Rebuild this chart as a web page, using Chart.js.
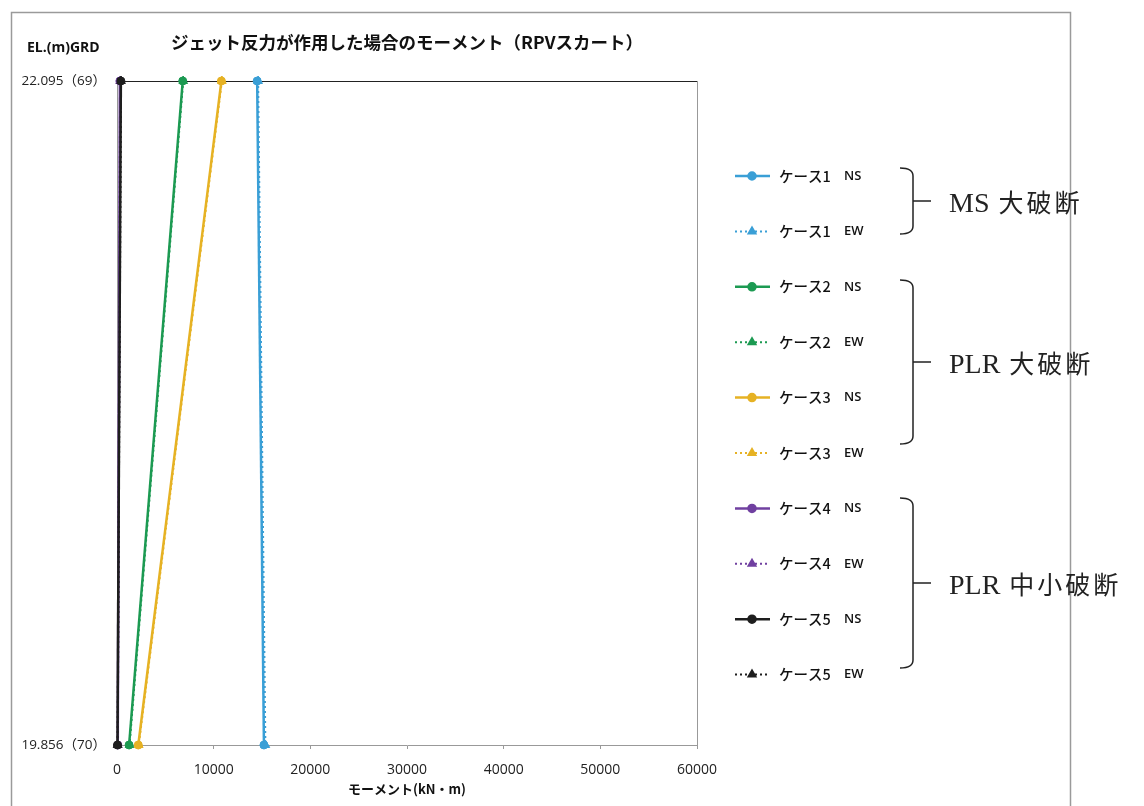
<!DOCTYPE html>
<html lang="ja">
<head>
    <meta charset="UTF-8">
    <title>ジェット反力が作用した場合のモーメント</title>
    <script src="https://cdn.jsdelivr.net/npm/chart.js"></script>
    <style>
        html, body { margin: 0; padding: 0; background: #fff; }
        #wrap { width: 1144px; height: 806px; position: relative; }
    </style>
</head>
<body>
<div id="wrap"><canvas id="momentChart" width="1144" height="806"></canvas></div>
<script>
// elevations (top, bottom) and their tick labels
const elevations = [22.095, 19.856];
const yTickLabels = ['22.095（69）', '19.856（70）'];
const xTicks = [0, 10000, 20000, 30000, 40000, 50000, 60000];

// moment values (kN・m) at [top, bottom]
const case1NS = [14500, 15200];
const case1EW = [14600, 15350];
const case2NS = [6800, 1250];
const case2EW = [6850, 1300];
const case3NS = [10800, 2200];
const case3EW = [10850, 2250];
const case4NS = [300, 80];
const case4EW = [320, 90];
const case5NS = [400, 50];
const case5EW = [420, 60];

const seriesNames = ['ケース1', 'ケース1', 'ケース2', 'ケース2', 'ケース3', 'ケース3', 'ケース4', 'ケース4', 'ケース5', 'ケース5'];
const seriesDirs = ['NS', 'EW', 'NS', 'EW', 'NS', 'EW', 'NS', 'EW', 'NS', 'EW'];
const seriesValues = [case1NS, case1EW, case2NS, case2EW, case3NS, case3EW, case4NS, case4EW, case5NS, case5EW];
const seriesColors = ['#3a9fd6', '#3a9fd6', '#1c9a52', '#1c9a52', '#e6b224', '#e6b224', '#7040a0', '#7040a0', '#1e1e1e', '#1e1e1e'];

const groups = [
    { label: 'MS 大破断', top: 168, bottom: 234 },
    { label: 'PLR 大破断', top: 280, bottom: 444 },
    { label: 'PLR 中小破断', top: 498, bottom: 668 }
];

const datasets = seriesValues.map((vals, i) => {
    const ew = seriesDirs[i] === 'EW';
    return {
        label: seriesNames[i] + ' ' + seriesDirs[i],
        data: vals.map((v, k) => ({ x: v, y: elevations[k] })),
        borderColor: seriesColors[i],
        backgroundColor: seriesColors[i],
        borderWidth: ew ? 2 : 2.5,
        borderDash: ew ? [2, 3] : [],
        pointStyle: ew ? 'triangle' : 'circle',
        pointRadius: ew ? 5 : 4,
        pointBorderWidth: 1,
        pointBorderColor: seriesColors[i],
        pointBackgroundColor: seriesColors[i],
        fill: false,
        tension: 0,
        clip: false,
        order: seriesValues.length - i   // later cases on top
    };
});

// frame, title, legend and group brackets
const decorations = {
    id: 'decorations',
    beforeDraw(chart) {
        const ctx = chart.ctx;
        ctx.save();
        ctx.fillStyle = '#fff';
        ctx.fillRect(0, 0, chart.width, chart.height);
        ctx.strokeStyle = '#9a9a9a';
        ctx.lineWidth = 1.5;
        ctx.beginPath();
        ctx.moveTo(11.5, 820);
        ctx.lineTo(11.5, 12.5);
        ctx.lineTo(1070.5, 12.5);
        ctx.lineTo(1070.5, 820);
        ctx.stroke();
        ctx.restore();
    },
    beforeDatasetsDraw(chart) {
        const ctx = chart.ctx;
        const area = chart.chartArea;
        ctx.save();
        ctx.strokeStyle = '#222';
        ctx.lineWidth = 1.2;
        ctx.beginPath();
        ctx.moveTo(area.left, area.top + 0.5);
        ctx.lineTo(area.right, area.top + 0.5);
        ctx.stroke();
        ctx.strokeStyle = '#999';
        ctx.lineWidth = 1;
        ctx.beginPath();
        ctx.moveTo(area.right + 0.5, area.top);
        ctx.lineTo(area.right + 0.5, area.bottom);
        ctx.stroke();
        ctx.restore();
    },
    afterDraw(chart) {
        const ctx = chart.ctx;
        const area = chart.chartArea;
        ctx.save();

        // title
        ctx.fillStyle = '#111';
        ctx.textBaseline = 'middle';
        ctx.textAlign = 'center';
        ctx.font = 'bold 17.5px "Noto Sans CJK JP"';
        ctx.fillText('ジェット反力が作用した場合のモーメント（RPVスカート）', (area.left + area.right) / 2, 42);

        // y axis title
        ctx.textAlign = 'left';
        ctx.font = 'bold 14px "Open Sans", "Noto Sans CJK JP"';
        ctx.fillText('EL.(m)GRD', 27, 48);

        // legend
        const legendTop = 176;
        const legendStep = 55.4;
        chart.data.datasets.forEach((ds, i) => {
            const y = legendTop + i * legendStep;
            ctx.strokeStyle = ds.borderColor;
            ctx.lineWidth = ds.borderWidth;
            ctx.setLineDash(ds.borderDash);
            ctx.beginPath();
            ctx.moveTo(735, y);
            ctx.lineTo(770, y);
            ctx.stroke();
            ctx.setLineDash([]);
            ctx.fillStyle = ds.backgroundColor;
            Chart.helpers.drawPoint(ctx, {
                pointStyle: ds.pointStyle,
                radius: ds.pointStyle === 'triangle' ? 4 : 3.5,
                borderWidth: 1,
                rotation: 0
            }, 752, y);
            ctx.fillStyle = '#111';
            ctx.textAlign = 'left';
            ctx.font = '500 14.5px "Noto Sans CJK JP"';
            ctx.fillText(seriesNames[i], 779, y);
            ctx.font = '600 13px "Open Sans"';
            ctx.fillText(seriesDirs[i], 844, y);
        });

        // brackets and group labels
        ctx.strokeStyle = '#222';
        ctx.lineWidth = 1.5;
        groups.forEach(g => {
            const mid = (g.top + g.bottom) / 2;
            const bx = 913;
            ctx.beginPath();
            ctx.moveTo(900, g.top);
            ctx.quadraticCurveTo(bx, g.top, bx, g.top + 8);
            ctx.lineTo(bx, g.bottom - 8);
            ctx.quadraticCurveTo(bx, g.bottom, 900, g.bottom);
            ctx.moveTo(bx, mid);
            ctx.lineTo(931, mid);
            ctx.stroke();
            ctx.fillStyle = '#222';
            ctx.textAlign = 'left';
            ctx.textBaseline = 'alphabetic';
            let x = 949;
            for (const ch of g.label) {
                const cjk = ch.charCodeAt(0) > 0x2000;
                ctx.font = cjk ? '25px "Noto Sans CJK JP"' : '28px "Liberation Serif"';
                ctx.fillText(ch, x, mid + 11);
                x += ch === ' ' ? 9 : ctx.measureText(ch).width + (cjk ? 3 : 0);
            }
            ctx.textBaseline = 'middle';
        });

        ctx.restore();
    }
};

const ctx = document.getElementById('momentChart').getContext('2d');
new Chart(ctx, {
    type: 'line',
    data: { datasets: datasets },
    options: {
        responsive: false,
        animation: false,
        layout: { padding: { left: 0, top: 81, right: 447, bottom: 9 } },
        plugins: {
            legend: { display: false },
            tooltip: { enabled: false }
        },
        scales: {
            x: {
                type: 'linear',
                min: 0,
                max: 60000,
                afterBuildTicks: (scale) => { scale.ticks = xTicks.map(v => ({ value: v })); },
                afterFit: (scale) => { scale.height = 52; },
                grid: { drawOnChartArea: false, drawTicks: true, tickLength: 4, color: '#999' },
                border: { display: true, color: '#999', width: 1 },
                ticks: {
                    padding: 13,
                    color: '#222',
                    font: { family: '"Open Sans"', size: 14 },
                    maxRotation: 0,
                    callback: (v) => String(v)
                },
                title: {
                    display: true,
                    text: 'モーメント(kN・m)',
                    color: '#111',
                    font: { family: '"Noto Sans CJK JP"', size: 13, weight: 'bold' },
                    padding: { top: 0, bottom: 0 }
                }
            },
            y: {
                type: 'linear',
                min: elevations[1],
                max: elevations[0],
                afterBuildTicks: (scale) => { scale.ticks = elevations.map(v => ({ value: v })); },
                afterFit: (scale) => { scale.width = 117; },
                grid: { display: false, drawTicks: false },
                border: { display: true, color: '#999', width: 1 },
                ticks: {
                    padding: 11,
                    color: '#222',
                    font: { family: '"Open Sans", "Noto Sans CJK JP"', size: 13.5 },
                    callback: (v) => yTickLabels[elevations.indexOf(v)]
                }
            }
        }
    },
    plugins: [decorations]
});
</script>
</body>
</html>
